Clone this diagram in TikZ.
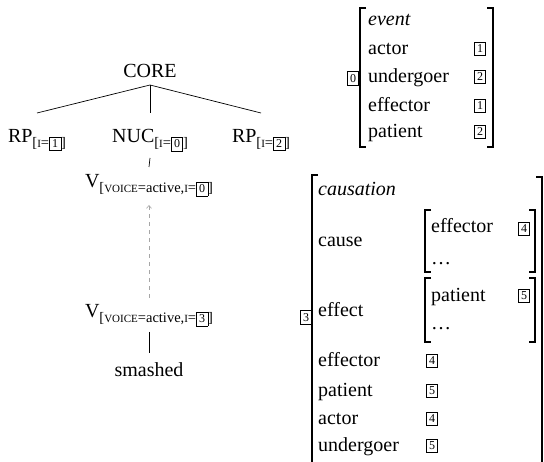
\documentclass[tikz,border=0pt]{standalone}
\usepackage{fontspec}
\setmainfont{Liberation Serif}
\usetikzlibrary{arrows.meta}
\newcommand\tg[1]{{\setlength\fboxsep{2.4pt}\setlength\fboxrule{0.6pt}\fbox{\fontsize{12}{12}\selectfont #1}}}
\newcommand\fsc[1]{{\fontsize{11}{11}\selectfont #1}}
\newcommand\subx[1]{\raisebox{-5pt}{\fontsize{14.5}{14.5}\selectfont #1}}
\begin{document}
\begin{tikzpicture}[x=1pt,y=-1pt,
  lab/.style={inner sep=0pt,font=\fontsize{20}{24}\selectfont},
  tree/.style={lab,anchor=base},
  feat/.style={lab,anchor=base west},
  tagn/.style={inner sep=0pt,anchor=south},
  tagc/.style={inner sep=0pt,anchor=center},
  brk/.style={line width=1.3pt},
  edge/.style={line width=0.7pt},
  mv/.style={gray!70,dash pattern=on 4pt off 4pt,line width=0.6pt,-{Straight Barb[length=3pt,width=5pt]}}]
\useasboundingbox (0,0) rectangle (544,462);

% tree
\node[tree] (core) at (150,78) {CORE};
\node[tree] (rp1) at (37,143) {RP\subx{[\fsc{I}=\tg{1}]}};
\node[tree] (nuc) at (150,143) {NUC\subx{[\fsc{I}=\tg{0}]}};
\node[tree] (rp2) at (261,143) {RP\subx{[\fsc{I}=\tg{2}]}};
\node[tree] (v1) at (149,188) {V\subx{[\fsc{VOICE}=active,\fsc{I}=\tg{0}]}};
\node[tree] (v2) at (149,318) {V\subx{[\fsc{VOICE}=active,\fsc{I}=\tg{3}]}};
\node[tree] (sm) at (149,377) {smashed};

\draw[edge] ([yshift=-7pt]core.base) -- ([yshift=30pt]rp1.base);
\draw[edge] ([yshift=-7pt]core.base) -- ([yshift=30pt]nuc.base);
\draw[edge] ([yshift=-7pt]core.base) -- ([yshift=30pt]rp2.base);
\draw[edge] ([yshift=-15pt]nuc.base) -- ([yshift=21pt]v1.base);
\draw[mv] ([yshift=20pt]v2.base) -- ([yshift=-17pt]v1.base);
\draw[edge] ([yshift=-14pt]v2.base) -- ([yshift=24pt]sm.base);

% small AVM
\draw[brk] (366,8) -- (360,8) -- (360,147) -- (366,147);
\draw[brk] (487,8) -- (493,8) -- (493,147) -- (487,147);
\node[tagc] (t0) at (353,78.5) {\tg{0}};
\node[feat] (ev) at (368,26) {\itshape event};
\node[feat] (a1) at (368,55) {actor};
\node[feat] (u1) at (368,83) {undergoer};
\node[feat] (e1) at (368,112) {effector};
\node[feat] (p1) at (368,138) {patient};
\node[tagn] (va1) at (480,56) {\tg{1}};
\node[tagn] (vu1) at (480,84) {\tg{2}};
\node[tagn] (ve1) at (480,113) {\tg{1}};
\node[tagn] (vp1) at (480,139) {\tg{2}};

% big AVM
\draw[brk] (318,175) -- (312,175) -- (312,463);
\draw[brk] (536,177) -- (542,177) -- (542,463);
\node[tagc] (t3) at (306,317.5) {\tg{3}};
\node[feat] (cs) at (318,196) {\itshape causation};
\node[feat] (ca) at (318,247) {cause};
\node[feat] (ef) at (318,317) {effect};
\node[feat] (e2) at (318,367) {effector};
\node[feat] (p2) at (318,397) {patient};
\node[feat] (a2) at (318,425) {actor};
\node[feat] (u2) at (318,452) {undergoer};
\node[tagn] (ve2) at (432,368) {\tg{4}};
\node[tagn] (vp2) at (432,398) {\tg{5}};
\node[tagn] (va2) at (432,426) {\tg{4}};
\node[tagn] (vu2) at (432,453) {\tg{5}};

% inner AVM: cause
\draw[brk] (431,210) -- (425,210) -- (425,272) -- (431,272);
\draw[brk] (529,210) -- (535,210) -- (535,272) -- (529,272);
\node[feat] (ie) at (431,233) {effector};
\node[feat] (id1) at (431,265) {\dots};
\node[tagn] (vie) at (524,236) {\tg{4}};

% inner AVM: effect
\draw[brk] (431,278) -- (425,278) -- (425,342) -- (431,342);
\draw[brk] (529,278) -- (535,278) -- (535,342) -- (529,342);
\node[feat] (ip) at (431,302) {patient};
\node[feat] (id2) at (431,330) {\dots};
\node[tagn] (vip) at (524,303) {\tg{5}};
\end{tikzpicture}
\end{document}
